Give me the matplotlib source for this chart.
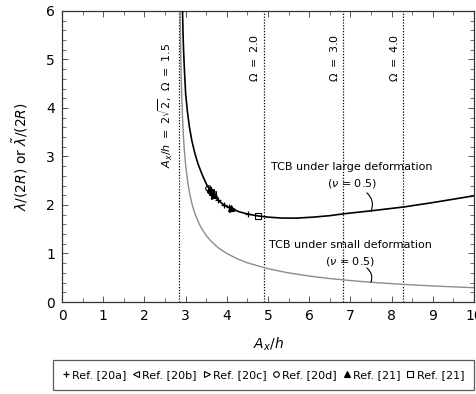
import matplotlib
matplotlib.use("Agg")
import matplotlib.pyplot as plt

plt.rcParams['font.family'] = ['DejaVu Sans']
plt.rcParams['mathtext.fontset'] = 'dejavusans'

# Large deformation curve (black)
large_x = [2.925, 2.935, 2.95, 2.97, 3.0, 3.04, 3.09, 3.15, 3.22, 3.3, 3.4, 3.5,
           3.6, 3.7, 3.8, 3.9, 4.0, 4.15, 4.3, 4.5, 4.75, 5.0, 5.35, 5.7, 6.1,
           6.5, 6.85, 7.5, 8.0, 8.3, 9.0, 9.5, 10.0]
large_y = [6.0, 5.6, 5.2, 4.8, 4.3, 3.95, 3.62, 3.33, 3.08, 2.85, 2.63, 2.44,
           2.29, 2.18, 2.09, 2.02, 1.97, 1.91, 1.86, 1.815, 1.775, 1.75, 1.73, 1.73, 1.75,
           1.78, 1.82, 1.88, 1.93, 1.96, 2.05, 2.12, 2.19]

# Small deformation curve (grey)
small_x = [2.867, 2.87, 2.88, 2.89, 2.9, 2.92, 2.95, 2.97, 3.0, 3.05, 3.1, 3.15,
           3.2, 3.25, 3.35, 3.4, 3.5, 3.6, 3.75, 3.85, 4.0, 4.25, 4.5, 5.0,
           5.5, 6.0, 6.5, 7.0, 7.5, 8.0, 8.5, 9.0, 9.5, 10.0]
small_y = [6.0, 5.81, 5.21, 4.77, 4.42, 3.90, 3.37, 3.12, 2.83, 2.48, 2.23, 2.04,
           1.89, 1.767, 1.576, 1.499, 1.372, 1.270, 1.149, 1.083, 1.0, 0.892, 0.808, 0.686,
           0.600, 0.535, 0.483, 0.442, 0.407, 0.378, 0.353, 0.331, 0.312, 0.295]

# Reference data points
ref20a_x = [3.78, 3.93, 4.05, 4.52]
ref20a_y = [2.11, 2.01, 1.95, 1.81]
ref20b_x = [3.62, 3.66]
ref20b_y = [2.27, 2.23]
ref20c_x = [3.70, 4.12]
ref20c_y = [2.18, 1.92]
ref20d_x = [3.55, 3.60]
ref20d_y = [2.36, 2.29]
ref21a_x = [3.58, 3.63, 3.68, 4.10]
ref21a_y = [2.32, 2.26, 2.20, 1.93]
ref21b_x = [4.75]
ref21b_y = [1.775]

# Vertical reference lines
vlines_x = [2.83, 4.90, 6.83, 8.28]
vlines_lbl = [r'$A_x/h\ =\ 2\sqrt{2},\ \Omega\ =\ 1.5$', r'$\Omega\ =\ 2.0$',
              r'$\Omega\ =\ 3.0$', r'$\Omega\ =\ 4.0$']
vlines_off = [-23, -16, -16, -16]

fig = plt.figure(figsize=(4.76, 3.94), dpi=100)
ax = fig.add_axes([0.1303, 0.2335, 0.8655, 0.7386])

for xv in vlines_x:
    ax.axvline(xv, color='black', linestyle=(0, (1, 1.3)), lw=0.9, zorder=1)
for xv, lbl, off in zip(vlines_x, vlines_lbl, vlines_off):
    ax.annotate(lbl, xy=(xv, 6.0), xycoords='data', xytext=(-2.5, off),
                textcoords='offset points', rotation=90, ha='right', va='top', fontsize=8)

ax.plot(small_x, small_y, color='#8c8c8c', lw=1.0, zorder=2)
ax.plot(large_x, large_y, color='black', lw=1.2, zorder=3)

ms = 4
mk = dict(linestyle='none', color='black', markersize=ms, zorder=4)
ax.plot(ref20a_x, ref20a_y, marker='+', label='Ref. [20a]', markeredgewidth=0.9, **mk)
ax.plot(ref20b_x, ref20b_y, marker='<', markerfacecolor='none', label='Ref. [20b]', markeredgewidth=0.8, **mk)
ax.plot(ref20c_x, ref20c_y, marker='>', markerfacecolor='none', label='Ref. [20c]', markeredgewidth=0.8, **mk)
ax.plot(ref20d_x, ref20d_y, marker='o', markerfacecolor='none', label='Ref. [20d]', markeredgewidth=0.8, **mk)
ax.plot(ref21a_x, ref21a_y, marker='^', label='Ref. [21]', markeredgewidth=0.8, **mk)
ax.plot(ref21b_x, ref21b_y, marker='s', markerfacecolor='none', label='Ref. [21]', markeredgewidth=0.8, **mk)

# Annotations
ax.text(7.04, 2.79, 'TCB under large deformation', ha='center', va='center', fontsize=8)
ax.text(7.04, 2.45, r'($\nu$ = 0.5)', ha='center', va='center', fontsize=8)
ax.annotate('', xy=(7.50, 1.87), xytext=(7.40, 2.25),
            arrowprops=dict(arrowstyle='-', color='black', lw=0.8,
                            connectionstyle='arc3,rad=-0.35', shrinkA=0, shrinkB=0))
ax.text(7.01, 1.175, 'TCB under small deformation', ha='center', va='center', fontsize=8)
ax.text(6.99, 0.845, r'($\nu$ = 0.5)', ha='center', va='center', fontsize=8)
ax.annotate('', xy=(7.50, 0.41), xytext=(7.40, 0.70),
            arrowprops=dict(arrowstyle='-', color='black', lw=0.8,
                            connectionstyle='arc3,rad=-0.35', shrinkA=0, shrinkB=0))

ax.set_xlim(0, 10)
ax.set_ylim(0, 6)
ax.set_xticks(range(0, 11))
ax.set_yticks(range(0, 7))
ax.set_xticks([i * 0.5 for i in range(21)], minor=True)
ax.set_yticks([i * 0.2 for i in range(31)], minor=True)
ax.tick_params(which='both', direction='in', top=True, right=True, labelsize=10, color='#555555')
ax.tick_params(which='major', length=4, width=0.7, pad=5)
ax.tick_params(which='minor', length=3, width=0.6)
for sp in ax.spines.values():
    sp.set_linewidth(0.9)
    sp.set_color('#333333')

ax.set_xlabel(r'$A_x/h$', fontsize=10, labelpad=9)
ax.set_ylabel(r'$\lambda/(2R)$ or $\tilde{\lambda}/(2R)$', fontsize=10, labelpad=12)

handles, labels = ax.get_legend_handles_labels()
leg = fig.legend(handles, labels, loc='lower left', bbox_to_anchor=(0.111, 0.010, 0.885, 0.074),
                 mode='expand', ncol=6, fontsize=8, frameon=True, fancybox=False,
                 handlelength=0.5, handletextpad=0.3, columnspacing=0.5, borderpad=0.9,
                 borderaxespad=0)
leg.get_frame().set_edgecolor('#333333')
leg.get_frame().set_linewidth(0.9)

fig.savefig('out.png', dpi=100)
